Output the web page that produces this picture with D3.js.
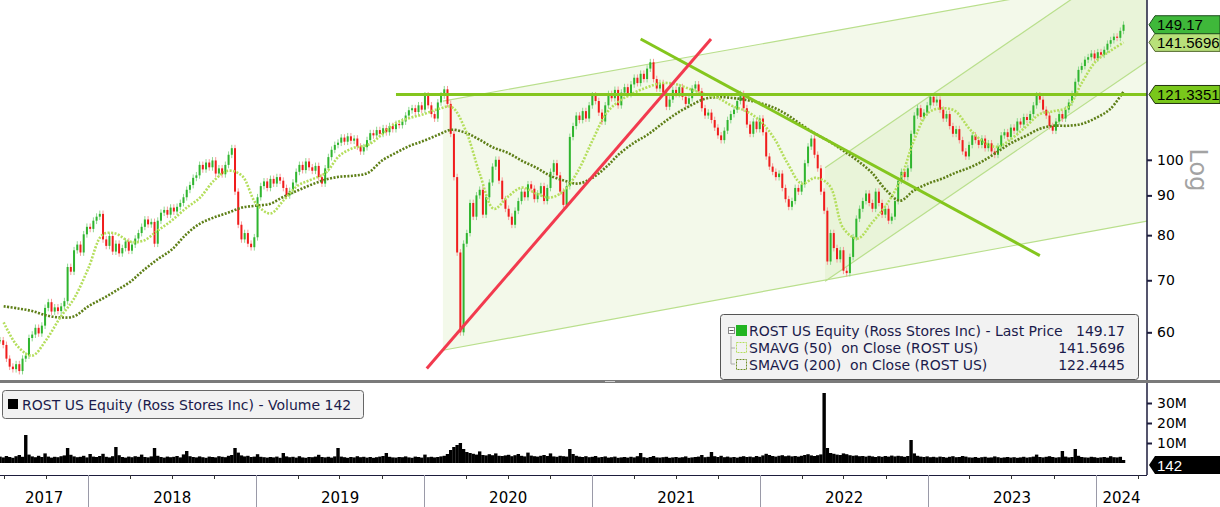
<!DOCTYPE html>
<html>
<head>
<meta charset="utf-8">
<script src="https://cdn.jsdelivr.net/npm/d3@7"></script>
<style>
  body { margin: 0; background: #fff; }
  svg { display: block; font-family: "DejaVu Sans", sans-serif; }
</style>
</head>
<body>
<svg id="chart" width="1220" height="507"></svg>
<script>
// weekly closes, first week ending 2017-06-23
var weekStart = new Date(2017, 5, 23);
var closes = [
  58.6, 57.8, 55.5, 54.2, 53.8, 54.6, 53.5, 55.5, 56.0, 59.0,
  59.6, 60.8, 59.8, 61.2, 64.5, 65.6, 63.8, 64.6, 63.9, 64.8,
  65.8, 72.8, 71.8, 76.5, 77.8, 76.0, 80.2, 82.0, 81.5, 83.5,
  84.5, 85.2, 79.0, 77.5, 79.8, 76.2, 78.0, 75.8, 77.0, 78.5,
  76.4, 77.8, 79.2, 80.5, 82.0, 83.8, 82.6, 83.2, 78.0, 83.5,
  85.5, 86.2, 85.0, 86.8, 85.8, 87.0, 88.0, 89.5, 91.5, 92.8,
  94.8, 95.5, 98.5, 97.2, 99.2, 97.8, 99.8, 96.0, 97.5, 95.8,
  98.5, 101.5, 103.5, 91.0, 82.5, 79.0, 80.5, 78.0, 77.2, 79.5,
  89.5, 92.5, 93.8, 92.0, 94.5, 93.2, 95.0, 94.0, 92.0, 90.0,
  91.2, 93.5, 96.5, 98.5, 97.0, 99.5, 97.8, 96.8, 98.2, 95.0,
  93.2, 97.5, 100.8, 103.0, 104.5, 105.2, 106.8, 105.5, 107.2, 105.8,
  106.5, 104.0, 102.5, 103.8, 106.0, 108.2, 107.5, 109.2, 108.0, 109.8,
  108.5, 110.5, 109.5, 111.2, 110.8, 112.0, 114.0, 115.8, 116.5, 115.2,
  117.5, 116.0, 121.0, 117.5, 114.5, 113.0, 118.5, 121.0, 123.2, 118.0,
  108.0, 95.0, 76.0, 60.0, 78.0, 80.5, 88.0, 84.5, 90.0, 91.5,
  85.0, 89.5, 93.5, 98.0, 100.0, 94.0, 89.0, 86.5, 84.5, 82.5,
  86.0, 88.5, 91.0, 89.5, 93.0, 91.8, 89.0, 90.5, 92.5, 88.5,
  92.0, 96.5, 99.0, 95.5, 91.0, 87.5, 92.5, 107.0, 110.5, 114.0,
  112.5, 115.5, 113.0, 117.5, 121.0, 119.0, 115.0, 112.0, 117.5, 121.5,
  120.0, 123.0, 117.5, 122.0, 124.0, 121.5, 125.0, 127.5, 125.5, 129.0,
  127.0, 131.0, 133.5, 127.0, 123.5, 125.5, 122.0, 117.0, 119.5, 123.0,
  121.5, 124.0, 120.5, 118.0, 120.0, 123.5, 125.0, 122.5, 116.5, 114.0,
  115.0, 112.5, 110.0, 107.5, 106.0, 109.0, 112.5, 114.5, 116.0, 119.0,
  121.5, 116.5, 111.0, 108.0, 112.0, 109.5, 113.0, 108.5, 101.0, 98.0,
  96.5, 95.0, 96.0, 92.0, 89.0, 87.0, 88.5, 92.0, 91.0, 93.0,
  99.0, 104.0, 106.5, 101.5, 97.5, 91.0, 86.0, 74.0, 80.5, 77.0,
  74.5, 76.5, 72.0, 71.5, 75.0, 79.5, 84.0, 86.5, 88.5, 90.5,
  88.0, 86.5, 91.0, 88.0, 85.0, 86.5, 83.5, 84.5, 88.5, 94.0,
  96.5, 95.0, 97.5, 108.0, 114.0, 116.5, 113.5, 115.0, 117.5, 120.5,
  118.5, 119.5, 116.0, 113.0, 114.5, 110.5, 108.0, 109.5, 106.0, 102.5,
  101.0, 104.5, 107.5, 106.0, 104.5, 106.5, 103.5, 105.0, 102.5, 101.5,
  104.0, 107.5, 108.5, 107.0, 110.0, 109.0, 112.0, 111.0, 113.5, 112.5,
  114.5, 117.5, 121.0, 119.5, 116.0, 114.0, 110.5, 109.0, 112.0, 114.5,
  113.0, 116.0, 118.5, 121.5, 126.0, 130.5, 132.0, 134.5, 135.5, 137.0,
  135.0, 137.5, 136.5, 138.5, 141.0, 142.5, 144.0, 143.5, 146.5, 149.17
];
// volume, millions of shares
var volumes = [
  3.2, 2.8, 3.5, 3.0, 2.6, 3.4, 4.0, 3.1, 14.0, 4.2,
  3.3, 2.9, 3.6, 3.0, 4.8, 3.2, 2.7, 3.1, 2.9, 3.4,
  3.8, 7.5, 4.1, 3.3, 2.9, 3.1, 3.6, 2.8, 4.5, 3.2,
  3.0, 3.5, 4.6, 3.1, 2.8, 3.4, 8.0, 3.9, 3.0, 2.7,
  3.2, 2.9, 3.4, 3.1, 4.2, 3.0, 2.8, 3.3, 7.5, 3.6,
  3.0, 2.7, 3.2, 2.9, 3.1, 3.5, 2.8, 4.3, 6.0, 3.4,
  3.0, 2.8, 3.3, 2.9, 2.6, 3.2, 3.0, 2.8, 3.4, 3.1,
  2.9, 3.6, 4.0, 7.5, 5.2, 3.8, 3.3, 3.6, 3.0, 3.2,
  4.4, 3.1, 2.9, 2.7, 3.0, 2.8, 3.2, 2.6, 5.0, 3.3,
  2.9, 3.1, 2.7, 3.4, 2.8, 2.6, 3.0, 2.9, 3.2, 4.1,
  3.0, 2.8, 3.1, 2.7, 3.3, 7.5, 3.2, 2.9, 2.6, 3.0,
  2.8, 3.4, 2.9, 3.1, 2.7, 3.0, 2.6, 2.9, 3.2, 3.5,
  5.0, 3.1, 2.8, 2.7, 3.0, 2.9, 3.3, 2.8, 2.6, 3.2,
  3.0, 2.7, 4.2, 2.9, 3.1, 2.8, 3.0, 3.3, 3.6, 4.5,
  6.5, 8.0, 9.0, 10.0, 7.0, 5.5, 5.0, 4.6, 4.2, 5.8,
  4.0, 3.8, 4.4, 3.9, 4.8, 3.6, 3.5, 3.8, 4.1, 3.4,
  3.9, 4.5, 3.6, 3.3, 5.2, 3.7, 3.4, 3.2, 3.6, 4.0,
  3.5, 4.8, 3.3, 3.1, 3.6, 3.4, 3.2, 7.0, 4.5, 3.6,
  3.2, 3.0, 3.4, 2.9, 3.1, 3.5, 2.8, 3.0, 3.3, 2.7,
  2.9, 3.2, 2.6, 2.8, 3.0, 2.7, 3.1, 2.8, 3.4, 5.0,
  2.9, 2.6, 3.0, 3.5, 2.8, 2.7, 2.9, 3.1, 2.6, 2.8,
  3.0, 2.7, 2.9, 3.3, 2.6, 2.8, 3.0, 3.2, 4.0, 2.9,
  3.1, 5.5, 3.4, 3.0, 3.6, 2.9, 3.2, 2.8, 3.0, 2.7,
  3.1, 3.4, 3.0, 3.2, 2.9, 3.5, 3.1, 3.8, 4.6, 4.0,
  3.5, 3.2, 3.6, 3.9, 3.4, 3.7, 3.3, 3.5, 3.2, 3.6,
  4.0, 4.4, 3.8, 3.5, 3.9, 4.3, 35.0, 7.5, 5.0, 4.6,
  4.2, 4.0, 4.8, 4.4, 3.9, 3.6, 3.8, 3.4, 3.5, 3.2,
  3.6, 3.3, 3.0, 3.4, 3.1, 3.5, 3.2, 3.7, 3.3, 3.6,
  3.4, 3.1, 3.5, 11.5, 4.8, 3.6, 3.2, 3.0, 3.3, 2.9,
  3.1, 2.8, 3.2, 3.0, 2.7, 3.1, 3.4, 2.9, 3.0, 3.5,
  3.2, 2.8, 2.7, 3.0, 2.6, 2.9, 3.1, 2.7, 2.8, 3.3,
  2.9, 2.6, 2.8, 3.0, 2.7, 2.9, 2.6, 2.8, 3.1, 2.7,
  2.9, 3.2, 4.2, 3.0, 2.8, 3.1, 3.4, 3.0, 2.7, 2.9,
  6.0, 3.2, 2.8, 3.0, 7.0, 3.6, 3.0, 2.8, 2.7, 3.1,
  2.9, 2.6, 2.8, 3.0, 2.7, 3.4, 2.9, 2.8, 3.1, 1.5
];
// moving averages, sampled at the first of each month from 2017-07
var smaStart = new Date(2017, 6, 1);
var sma50 = [
  61.8, 57.5, 56.0, 58.6, 62.7, 66.3, 72.5, 80.1, 80.4, 78.5,
  78.7, 81.1, 83.5, 86.6, 89.4, 94.0, 96.8, 95.4, 87.8, 85.3,
  88.6, 92.6, 94.3, 96.2, 101.2, 103.6, 104.5, 107.7, 111.5, 113.2,
  114.5, 116.2, 116.9, 108.9, 96.0, 86.5, 89.6, 92.1, 90.5, 89.4,
  91.3, 96.8, 105.8, 114.9, 119.0, 121.9, 124.0, 125.5, 125.1, 123.3,
  121.5, 120.1, 117.3, 115.5, 112.2, 106.4, 99.1, 93.2, 94.8, 92.6,
  81.6, 79.2, 83.0, 87.3, 94.0, 105.8, 114.9, 116.5, 115.5, 109.6,
  105.5, 103.9, 106.4, 110.2, 114.5, 115.5, 116.9, 125.5, 133.9, 138.0,
  141.57
];
var sma200 = [
  64.8, 64.4, 63.9, 63.1, 62.7, 62.9, 64.8, 66.3, 67.8, 69.6,
  72.1, 74.5, 76.6, 80.1, 82.8, 84.3, 85.5, 86.8, 87.3, 87.8,
  89.6, 91.3, 92.9, 94.3, 95.1, 95.4, 96.2, 99.7, 102.1, 104.2,
  105.8, 107.7, 109.3, 108.3, 106.1, 103.6, 102.1, 99.7, 97.7, 95.4,
  94.0, 93.2, 94.8, 98.0, 101.8, 105.1, 107.7, 111.2, 114.5, 117.3,
  119.7, 120.4, 120.1, 119.4, 118.3, 116.6, 114.2, 110.9, 108.0, 105.5,
  102.7, 99.7, 96.2, 91.5, 88.6, 91.3, 93.2, 94.6, 96.2, 97.7,
  99.7, 102.4, 105.1, 107.3, 109.6, 110.6, 110.6, 111.2, 113.2, 116.2,
  122.44
];
var priceTicks = [60, 70, 80, 90, 100];
var volTicks = [10, 20, 30];
var years = [2017, 2018, 2019, 2020, 2021, 2022, 2023, 2024];
var lastPrice = 149.17, lastSma50 = 141.5696, lastSma200 = 122.4445, levelLine = 121.3351;

// drawn annotations (date, price)
var wideChannel = { start: "2020-02-11", end: "2024-04-21", top: [119.0, 172.9], bottom: [56.9, 83.4] };
var upChannel = { start: "2022-05-22", end: "2024-04-21", top: [97.7, 187.4], bottom: [69.8, 133.8] };
var redTrend = [["2020-01-07", 53.9], ["2021-09-16", 143.0]];
var greenTrend = [["2021-04-16", 143.0], ["2023-09-01", 75.3]];
var levelStart = "2019-11-01";

var svg = d3.select("#chart");
var plotR = 1147, plotB = 380;
var parse = d3.timeParse("%Y-%m-%d");

var x = d3.scaleTime().domain([new Date(2017, 5, 23), new Date(2024, 3, 21)]).range([0, plotR]);
var y = d3.scaleLog().domain([52.1, 160.5]).range([plotB, 0]);
var yv = d3.scaleLinear().domain([0, 40]).range([463, 383]);

svg.append("defs").append("clipPath").attr("id", "plotClip")
  .append("rect").attr("x", 0).attr("y", 0).attr("width", plotR).attr("height", plotB);

var plot = svg.append("g").attr("clip-path", "url(#plotClip)");

// channels
function channelPath(c) {
  var d0 = parse(c.start), d1 = parse(c.end);
  return "M" + x(d0) + "," + y(c.top[0]) + "L" + x(d1) + "," + y(c.top[1]) +
    "L" + x(d1) + "," + y(c.bottom[1]) + "L" + x(d0) + "," + y(c.bottom[0]) + "Z";
}
[wideChannel, upChannel].forEach(function (c) {
  plot.append("path").attr("d", channelPath(c)).attr("fill", "rgb(196,226,150)").attr("fill-opacity", 0.2);
  [c.top, c.bottom].forEach(function (p) {
    plot.append("line")
      .attr("x1", x(parse(c.start))).attr("y1", y(p[0]))
      .attr("x2", x(parse(c.end))).attr("y2", y(p[1]))
      .attr("stroke", "#b9df8c").attr("stroke-width", 1.2);
  });
});

// candles
var bars = closes.map(function (c, i) {
  return { date: d3.timeWeek.offset(weekStart, i), open: i ? closes[i - 1] : c, close: c, vol: volumes[i] };
});
var candles = plot.append("g");
candles.selectAll("line").data(bars).join("line")
  .attr("x1", function (d) { return x(d.date); })
  .attr("x2", function (d) { return x(d.date); })
  .attr("y1", function (d) { return y(Math.max(d.open, d.close) * 1.01); })
  .attr("y2", function (d) { return y(Math.min(d.open, d.close) * 0.99); })
  .attr("stroke", function (d) { return d.close >= d.open ? "#8fd88f" : "#f79a9a"; })
  .attr("stroke-width", 1);
candles.selectAll("rect").data(bars).join("rect")
  .attr("x", function (d) { return x(d.date) - 1; })
  .attr("width", 2)
  .attr("y", function (d) { return y(Math.max(d.open, d.close)); })
  .attr("height", function (d) { return Math.max(1, Math.abs(y(d.open) - y(d.close))); })
  .attr("fill", function (d) { return d.close >= d.open ? "#2fb52f" : "#f01c1c"; });

// moving averages
var smaLine = d3.line()
  .x(function (d, i) { return x(d3.timeMonth.offset(smaStart, i)); })
  .y(function (d) { return y(d); })
  .curve(d3.curveCatmullRom);
plot.append("path").attr("d", smaLine(sma200)).attr("fill", "none")
  .attr("stroke", "#5e7f17").attr("stroke-width", 2.6).attr("stroke-dasharray", "2,1.5");
plot.append("path").attr("d", smaLine(sma50)).attr("fill", "none")
  .attr("stroke", "#b4de5c").attr("stroke-width", 2.6).attr("stroke-dasharray", "2,1.5");

// trend lines
plot.append("line")
  .attr("x1", x(parse(levelStart))).attr("x2", plotR)
  .attr("y1", y(levelLine)).attr("y2", y(levelLine))
  .attr("stroke", "#84c61e").attr("stroke-width", 3);
plot.append("line")
  .attr("x1", x(parse(greenTrend[0][0]))).attr("y1", y(greenTrend[0][1]))
  .attr("x2", x(parse(greenTrend[1][0]))).attr("y2", y(greenTrend[1][1]))
  .attr("stroke", "#84c61e").attr("stroke-width", 3);
plot.append("line")
  .attr("x1", x(parse(redTrend[0][0]))).attr("y1", y(redTrend[0][1]))
  .attr("x2", x(parse(redTrend[1][0]))).attr("y2", y(redTrend[1][1]))
  .attr("stroke", "#f23a4e").attr("stroke-width", 3);

// price axis
svg.append("line").attr("x1", plotR).attr("x2", plotR).attr("y1", 0).attr("y2", plotB)
  .attr("stroke", "#1d1d3d").attr("stroke-width", 1.5);
var pAxis = svg.append("g").attr("transform", "translate(" + plotR + ",0)")
  .call(d3.axisRight(y).tickValues(priceTicks).tickFormat(d3.format("d")).tickSize(5).tickPadding(5));
pAxis.select(".domain").remove();
pAxis.selectAll("line").attr("stroke", "#1d1d3d").attr("stroke-width", 2);
pAxis.selectAll("text").attr("font-size", 14).attr("font-family", "DejaVu Sans").attr("fill", "#000");

svg.append("text").attr("transform", "translate(1190,170) rotate(90)")
  .attr("text-anchor", "middle").attr("font-size", 24).attr("fill", "#a3a3a3").text("Log");

function tag(v, label, fill, stroke, color) {
  var yc = y(v), h = 18, x0 = plotR + 2;
  svg.append("path")
    .attr("d", "M" + x0 + "," + yc + "L" + (x0 + 6) + "," + (yc - h / 2) + "L1220," + (yc - h / 2) +
      "L1220," + (yc + h / 2) + "L" + (x0 + 6) + "," + (yc + h / 2) + "Z")
    .attr("fill", fill).attr("stroke", stroke).attr("stroke-width", 1);
  svg.append("text").attr("x", x0 + 8).attr("y", yc + 5.5)
    .attr("font-family", "Liberation Sans").attr("font-size", 15).attr("fill", color).text(label);
}
tag(lastSma50, d3.format(".4f")(lastSma50), "#b8e07a", "#556b2f", "#000");
tag(lastPrice, d3.format(".2f")(lastPrice), "#3fb83a", "#1f4f1f", "#000");
tag(levelLine, d3.format(".4f")(levelLine), "#79c71b", "#223311", "#000");

// price legend
var lg = svg.append("g");
lg.append("rect").attr("x", 720.5).attr("y", 314.5).attr("width", 418).attr("height", 65).attr("rx", 3)
  .attr("fill", "#f2f2f2").attr("stroke", "#555");
lg.append("path").attr("d", "M731,336V364M731,348H735M731,364H735").attr("stroke", "#aaa").attr("fill", "none");
lg.append("rect").attr("x", 728.5).attr("y", 327.5).attr("width", 6).attr("height", 6).attr("fill", "#fff").attr("stroke", "#888");
lg.append("line").attr("x1", 729.5).attr("x2", 733.5).attr("y1", 330.5).attr("y2", 330.5).attr("stroke", "#555");
lg.append("rect").attr("x", 736).attr("y", 325).attr("width", 11).attr("height", 11).attr("fill", "#22b522");
lg.append("rect").attr("x", 736.5).attr("y", 342.5).attr("width", 10).attr("height", 10).attr("fill", "none")
  .attr("stroke", "#b4de5c").attr("stroke-dasharray", "2,1");
lg.append("rect").attr("x", 736.5).attr("y", 359.5).attr("width", 10).attr("height", 10).attr("fill", "none")
  .attr("stroke", "#6f8f27").attr("stroke-dasharray", "2,1");
var legendRows = [
  ["ROST US Equity (Ross Stores Inc) - Last Price", d3.format(".2f")(lastPrice)],
  ["SMAVG (50)  on Close (ROST US)", d3.format(".4f")(lastSma50)],
  ["SMAVG (200)  on Close (ROST US)", d3.format(".4f")(lastSma200)]
];
legendRows.forEach(function (r, i) {
  var yy = 336 + i * 17;
  lg.append("text").attr("x", 749).attr("y", yy).attr("font-size", 14).attr("fill", "#1b1b4b")
    .attr("xml:space", "preserve").style("white-space", "pre").text(r[0]);
  lg.append("text").attr("x", 1125).attr("y", yy).attr("font-size", 14).attr("fill", "#1b1b4b")
    .attr("text-anchor", "end").text(r[1]);
});

// panel separator
svg.append("rect").attr("x", 0).attr("y", 380).attr("width", 1220).attr("height", 3).attr("fill", "#7a7a7a");
svg.append("rect").attr("x", 605).attr("y", 381).attr("width", 10).attr("height", 1).attr("fill", "#cfcfcf");

// volume bars
svg.append("g").selectAll("rect").data(bars).join("rect")
  .attr("x", function (d) { return x(d.date) - 1.7; })
  .attr("width", 3.4)
  .attr("y", function (d) { return yv(d.vol); })
  .attr("height", function (d) { return yv(0) - yv(d.vol); })
  .attr("fill", "#000");

svg.append("line").attr("x1", plotR).attr("x2", plotR).attr("y1", 383).attr("y2", 475)
  .attr("stroke", "#1d1d3d").attr("stroke-width", 1.5);
var vAxis = svg.append("g").attr("transform", "translate(" + plotR + ",0)")
  .call(d3.axisRight(yv).tickValues(volTicks).tickFormat(function (d) { return d + "M"; }).tickSize(5).tickPadding(5));
vAxis.select(".domain").remove();
vAxis.selectAll("line").attr("stroke", "#1d1d3d").attr("stroke-width", 2);
vAxis.selectAll("text").attr("font-size", 14).attr("font-family", "DejaVu Sans").attr("fill", "#000");

var vy = 465;
svg.append("path")
  .attr("d", "M" + (plotR + 2) + "," + vy + "L" + (plotR + 8) + "," + (vy - 9) + "L1220," + (vy - 9) +
    "L1220," + (vy + 9) + "L" + (plotR + 8) + "," + (vy + 9) + "Z")
  .attr("fill", "#000");
svg.append("text").attr("x", plotR + 10).attr("y", vy + 5.5)
  .attr("font-family", "Liberation Sans").attr("font-size", 15).attr("fill", "#fff").text("142");

// volume legend
svg.append("rect").attr("x", 2.5).attr("y", 390.5).attr("width", 361).attr("height", 28).attr("rx", 3)
  .attr("fill", "#f2f2f2").attr("stroke", "#666");
svg.append("rect").attr("x", 8).attr("y", 399).attr("width", 10).attr("height", 10).attr("fill", "#000");
svg.append("text").attr("x", 22).attr("y", 410).attr("font-size", 14).attr("fill", "#1b1b4b")
  .text("ROST US Equity (Ross Stores Inc) - Volume 142");

// time axis
svg.append("line").attr("x1", 0).attr("x2", plotR).attr("y1", 475.5).attr("y2", 475.5).attr("stroke", "#1d1d3d");
var quarters = d3.timeMonth.every(3).range(new Date(2017, 6, 1), new Date(2024, 3, 2));
svg.append("g").selectAll("line").data(quarters).join("line")
  .attr("x1", function (d) { return Math.round(x(d)) + 0.5; })
  .attr("x2", function (d) { return Math.round(x(d)) + 0.5; })
  .attr("y1", 475)
  .attr("y2", function (d) { return d.getMonth() === 0 ? 507 : 479; })
  .attr("stroke", function (d) { return d.getMonth() === 0 ? "#9a9aa8" : "#333"; });
svg.append("g").selectAll("text").data(years).join("text")
  .attr("x", function (yr) {
    var a = Math.max(0, x(new Date(yr, 0, 1))), b = Math.min(plotR, x(new Date(yr + 1, 0, 1)));
    return (a + b) / 2;
  })
  .attr("y", 503)
  .attr("text-anchor", "middle").attr("font-size", 15).attr("fill", "#000")
  .text(function (yr) { return yr; });
</script>
</body>
</html>
